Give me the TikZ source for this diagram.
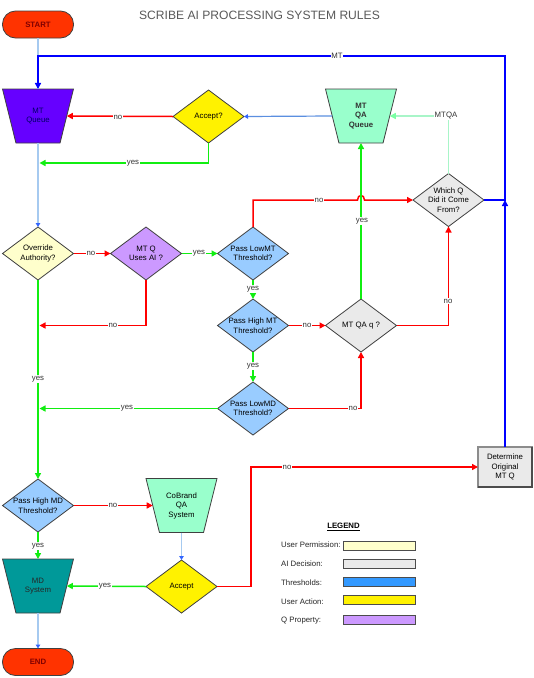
\documentclass[tikz,border=0pt]{standalone}
\usepackage{fontspec}
\setmainfont{Liberation Sans}
\usetikzlibrary{shapes.geometric,arrows.meta}
\definecolor{cRed}{HTML}{FF0000}
\definecolor{cGreen}{HTML}{11EE11}
\definecolor{cBlue}{HTML}{0000FF}
\definecolor{cLight}{HTML}{A6CAF0}
\definecolor{cTip}{HTML}{3366FF}
\definecolor{cSteel}{HTML}{5B8FE0}
\definecolor{cMint}{HTML}{99FFCC}
\definecolor{cMintLine}{HTML}{A8F5C8}
\definecolor{cPurple}{HTML}{6600FF}
\definecolor{cPale}{HTML}{FFFFCC}
\definecolor{cGrayFill}{HTML}{EAEAEA}
\definecolor{cLav}{HTML}{CC99FF}
\definecolor{cThr}{HTML}{99CCFF}
\definecolor{cThrLeg}{HTML}{3399FF}
\definecolor{cTeal}{HTML}{009999}
\definecolor{cTerm}{HTML}{FF3300}
\definecolor{cBorder}{HTML}{404040}
\definecolor{cNavy}{HTML}{000066}
\definecolor{cDarkRed}{HTML}{800000}
\begin{document}
\begin{tikzpicture}[x=1pt,y=-1pt,
  base/.style={draw=cBorder, line width=0.8pt, outer sep=0pt, inner sep=0pt},
  txt/.style={font=\fontsize{7.8}{9.5}\selectfont, align=center, inner sep=0pt},
  dia/.style={base, diamond, minimum width=71pt, minimum height=53pt},
  trap/.style={base, inner sep=2pt, trapezium, trapezium angle=73, trapezium stretches=true,
    shape border rotate=180, minimum width=71pt, minimum height=54pt},
  term/.style={base, rectangle, rounded corners=13pt, fill=cTerm,
    minimum width=71pt, minimum height=27pt},
  ln/.style={line width=1.5pt},
  arr/.style={-{Triangle[length=6pt,width=6pt]}},
  arrs/.style={-{Triangle[length=4pt,width=4.5pt,color=cTip]}},
  redl/.style={ln, draw=cRed, arr},
  greenl/.style={ln, draw=cGreen, arr},
  bluel/.style={ln, draw=cBlue},
  lightl/.style={line width=1.8pt, draw=cLight},
  lbl/.style={font=\fontsize{7.8}{9}\selectfont, fill=white, inner sep=0.6pt, text=black!80},
  legt/.style={font=\fontsize{7.8}{9}\selectfont, anchor=west, inner sep=0pt, text=black!85},
  legbox/.style={rectangle, draw=black!70, line width=0.9pt, minimum width=72pt,
    minimum height=9pt, inner sep=0pt}
]
\useasboundingbox (0,0) rectangle (534,678);
\fill[white] (0,0) rectangle (534,678);

% title
\node[font=\fontsize{12.1}{14}\selectfont, text=black!65, inner sep=0pt] (title) at (259.5,15) {SCRIBE AI PROCESSING SYSTEM RULES};

% nodes
\node[term, label={[txt, text=cDarkRed, font=\fontsize{7.8}{9.5}\selectfont\bfseries]center:START}] (start) at (38,24.5) {};
\node[trap, fill=cPurple, label={[txt, text=cNavy]center:{MT\\Queue}}] (mtq) at (38,116) {};
\node[dia, fill=yellow, label={[txt]center:{Accept?}}] (acc1) at (208.5,116.5) {};
\node[trap, fill=cMint, label={[txt, font=\fontsize{7.8}{9.5}\selectfont\bfseries, text=black!80]center:{MT\\QA\\Queue}}] (mtqaq) at (361,116) {};
\node[dia, fill=cGrayFill, label={[txt]center:{Which Q\\Did it Come\\From?}}] (whq) at (448.5,200) {};
\node[dia, fill=cPale, label={[txt]center:{Override\\Authority?}}] (ovr) at (38,253.5) {};
\node[dia, fill=cLav, label={[txt]center:{MT Q\\Uses AI ?}}] (mtai) at (146,253.5) {};
\node[dia, fill=cThr, label={[txt]center:{Pass LowMT\\Threshold?}}] (plmt) at (253,253.5) {};
\node[dia, fill=cThr, label={[txt]center:{Pass High MT\\Threshold?}}] (phmt) at (253,325.5) {};
\node[dia, fill=cGrayFill, label={[txt]center:{MT QA q ?}}] (mtqa) at (361,325.5) {};
\node[dia, fill=cThr, label={[txt]center:{Pass LowMD\\Threshold?}}] (plmd) at (253,408.5) {};
\node[dia, fill=cThr, label={[txt]center:{Pass High MD\\Threshold?}}] (phmd) at (38,505.5) {};
\node[trap, fill=cMint, label={[txt]center:{CoBrand\\QA\\System}}] (cob) at (181.5,505.5) {};
\node[dia, fill=yellow, label={[txt]center:{Accept}}] (acc2) at (181.5,586.5) {};
\node[trap, fill=cTeal, label={[txt, text=black!85]center:{MD\\System}}] (mds) at (38,586) {};
\node[term, label={[txt, text=cDarkRed, font=\fontsize{7.8}{9.5}\selectfont\bfseries]center:END}] (endn) at (38,662) {};
\node[base, rectangle, fill=cGrayFill, draw=black!45, line width=1.3pt, minimum width=54pt, minimum height=40pt,
  label={[txt]center:{Determine\\Original\\MT Q}}] (det) at (505,467) {};
\draw[black!70, line width=1.3pt] (det.north east) -- (det.south east) -- (det.south west);

% junction coordinates
\coordinate (jn) at (505,200);
\coordinate (mttop) at (505,56);
\coordinate (j1) at (39.5,163);
\coordinate (j2) at (39.5,325.5);
\coordinate (j3) at (39.5,408.5);
\coordinate (j4) at (251,586.5);
\coordinate (hop1) at (357.5,200);
\coordinate (hop2) at (364.5,200);

% connectors
\draw[lightl] (start.south) -- (mtq.north);
\draw[bluel, arr] (whq.east) -- (jn) -- (mttop) -| (mtq.north);
\draw[bluel, arr] (det.north) -- (jn);
\draw[ln, draw=cMintLine, -{Triangle[length=6pt,width=6pt,color=cMint!80!green]}] (whq.north) |- (mtqaq.east);
\draw[line width=1.2pt, draw=cSteel, arrs] (mtqaq.west) -- (acc1.east);
\draw[redl] (acc1.west) -- (mtq.east);
\draw[greenl] (acc1.south) |- (j1);
\draw[lightl, arrs] (mtq.south) -- (ovr.north);
\draw[redl] (ovr.east) -- (mtai.west);
\draw[greenl] (mtai.east) -- (plmt.west);
\draw[redl] (mtai.south) |- (j2);
\draw[redl] (plmt.north) |- (hop1) .. controls (357.5,194) and (364.5,194) .. (hop2) -- (whq.west);
\draw[greenl] (plmt.south) -- (phmt.north);
\draw[redl] (phmt.east) -- (mtqa.west);
\draw[greenl] (mtqa.north) -- (mtqaq.south);
\draw[redl] (mtqa.east) -| (whq.south);
\draw[greenl] (phmt.south) -- (plmd.north);
\draw[greenl] (plmd.west) -- (j3);
\draw[redl] (plmd.east) -| (mtqa.south);
\draw[greenl] (ovr.south) -- (phmd.north);
\draw[redl] (phmd.east) -- (cob.west);
\draw[lightl, arrs] (cob.south) -- (acc2.north);
\draw[greenl] (acc2.west) -- (mds.east);
\draw[greenl] (phmd.south) -- (mds.north);
\draw[redl] (acc2.east) -- (j4) |- (det.west);
\draw[lightl, arrs] (mds.south) -- (endn.north);

% connector labels
\node[lbl] (lmt) at (337,56) {MT};
\node[lbl] (lmtqa) at (446,116) {MTQA};
\node[lbl] (l1) at (118,117) {no};
\node[lbl] (l2) at (133,163) {yes};
\node[lbl] (l3) at (91,253.5) {no};
\node[lbl] (l4) at (199,253.5) {yes};
\node[lbl] (l5) at (113,325.5) {no};
\node[lbl] (l6) at (319,200) {no};
\node[lbl] (l7) at (253,289) {yes};
\node[lbl] (l8) at (362,221) {yes};
\node[lbl] (l9) at (307,325.5) {no};
\node[lbl] (l10) at (448,301) {no};
\node[lbl] (l11) at (253,366) {yes};
\node[lbl] (l12) at (127,408.5) {yes};
\node[lbl] (l13) at (353,408) {no};
\node[lbl] (l14) at (38,379) {yes};
\node[lbl] (l15) at (113,505.5) {no};
\node[lbl] (l16) at (38,546) {yes};
\node[lbl] (l17) at (105,586.5) {yes};
\node[lbl] (l18) at (287,467) {no};

% legend
\node[font=\fontsize{7.8}{9}\selectfont\bfseries, inner sep=0pt] (leg) at (343.5,527) {\underline{LEGEND}};
\node[legt] (lt1) at (281,544.5) {User Permission:};
\node[legbox, fill=cPale] (lb1) at (379,545.5) {};
\node[legt] (lt2) at (281,563.5) {AI Decision:};
\node[legbox, fill=cGrayFill] (lb2) at (379,563.5) {};
\node[legt] (lt3) at (281,582.5) {Thresholds:};
\node[legbox, fill=cThrLeg] (lb3) at (379,581.5) {};
\node[legt] (lt4) at (281,601.5) {User Action:};
\node[legbox, fill=yellow] (lb4) at (379,599.5) {};
\node[legt] (lt5) at (281,620.5) {Q Property:};
\node[legbox, fill=cLav] (lb5) at (379,619.5) {};
\end{tikzpicture}
\end{document}
